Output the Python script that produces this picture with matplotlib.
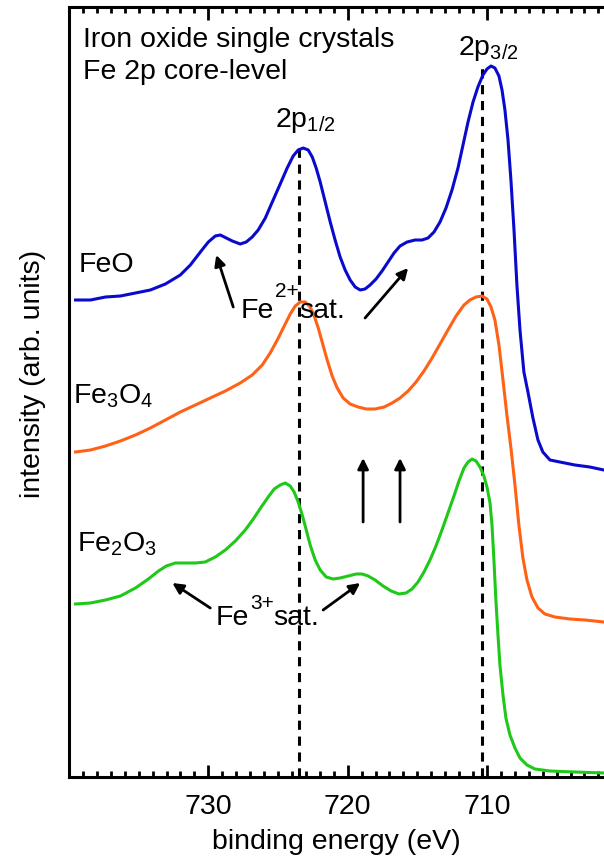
import matplotlib
matplotlib.use("Agg")
import matplotlib.pyplot as plt
from matplotlib.ticker import MultipleLocator

plt.rcParams['font.family'] = ['Liberation Sans', 'DejaVu Sans']
plt.rcParams['mathtext.fontset'] = 'custom'
plt.rcParams['mathtext.rm'] = 'Liberation Sans'
plt.rcParams['mathtext.it'] = 'Liberation Sans'
plt.rcParams['mathtext.default'] = 'regular'

# ---- data (binding energy in eV, intensity in arb. units incl. vertical offset) ----
feo_energy = [739.53, 738.46, 737.38, 736.31, 735.23, 734.16, 733.08, 732.01, 731.29, 730.57,
              730.00, 729.50, 729.14, 728.71, 728.28, 727.71, 727.28, 726.85, 726.42, 725.91,
              725.41, 724.84, 724.34, 723.91, 723.55, 723.19, 722.83, 722.54, 722.26, 721.97,
              721.61, 721.25, 720.90, 720.54, 720.18, 719.82, 719.46, 719.10, 718.75, 718.39,
              717.96, 717.53, 717.10, 716.67, 716.24, 715.73, 715.16, 714.66, 714.23, 713.80,
              713.37, 712.94, 712.51, 712.08, 711.72, 711.36, 711.00, 710.65, 710.29, 710.00,
              709.71, 709.43, 709.14, 708.92, 708.71, 708.49, 708.28, 708.06, 707.85, 707.63,
              707.35, 707.06, 706.70, 706.34, 705.99, 705.48, 704.77, 703.69, 702.62, 701.61]
feo_int = [477, 477, 480, 481, 484, 487, 493, 502, 512, 525,
           535, 541, 542, 539, 536, 533, 535, 540, 547, 559,
           575, 593, 609, 621, 627, 629, 627, 620, 609, 595,
           575, 555, 537, 520, 507, 497, 490, 487, 488, 492,
           498, 506, 515, 524, 531, 535, 537, 537, 539, 545,
           555, 569, 587, 609, 632, 655, 675, 690, 702, 708,
           711, 709, 701, 687, 667, 637, 597, 547, 492, 447,
           405, 385, 359, 337, 325, 317, 315, 312, 310, 307]

fe3o4_energy = [739.53, 738.46, 737.38, 736.31, 735.23, 734.16, 733.08, 732.01, 730.93, 729.86,
                728.78, 727.71, 726.85, 726.13, 725.56, 725.05, 724.55, 724.12, 723.76, 723.40,
                723.05, 722.69, 722.40, 722.11, 721.83, 721.47, 721.11, 720.75, 720.32, 719.82,
                719.25, 718.67, 718.03, 717.38, 716.81, 716.24, 715.66, 715.09, 714.52, 713.94,
                713.37, 712.80, 712.22, 711.65, 711.22, 710.79, 710.36, 710.00, 709.71, 709.43,
                709.14, 708.85, 708.57, 708.28, 707.99, 707.71, 707.42, 707.13, 706.77, 706.34,
                705.84, 705.13, 704.05, 702.97, 701.61]
fe3o4_int = [325, 327, 331, 336, 342, 349, 357, 365, 372, 379,
             386, 394, 402, 412, 424, 437, 451, 463, 471, 475,
             475, 470, 461, 449, 435, 417, 401, 389, 379, 373,
             370, 368, 368, 370, 374, 379, 386, 395, 406, 419,
             433, 447, 461, 472, 477, 480, 481, 478, 470, 457,
             432, 397, 362, 329, 292, 252, 219, 197, 180, 169,
             163, 160, 158, 157, 155]

fe2o3_energy = [739.53, 738.46, 737.38, 736.31, 735.23, 734.30, 733.58, 733.01, 732.37, 731.65,
                730.93, 730.22, 729.50, 728.78, 728.06, 727.35, 726.77, 726.20, 725.70, 725.27,
                724.84, 724.48, 724.12, 723.84, 723.55, 723.26, 722.97, 722.69, 722.33, 721.97,
                721.54, 721.04, 720.54, 719.96, 719.39, 718.96, 718.53, 718.03, 717.46, 716.88,
                716.31, 715.81, 715.38, 714.95, 714.52, 714.09, 713.66, 713.23, 712.80, 712.37,
                712.01, 711.65, 711.36, 711.07, 710.79, 710.50, 710.22, 710.00, 709.78, 709.64,
                709.50, 709.36, 709.21, 709.07, 708.85, 708.64, 708.35, 707.99, 707.63, 707.13,
                706.56, 705.48, 703.69, 701.61]
fe2o3_int = [173, 174, 177, 181, 189, 198, 206, 211, 214, 214,
             214, 215, 220, 227, 236, 247, 258, 270, 280, 288,
             292, 294, 291, 285, 275, 262, 247, 232, 217, 207,
             200, 198, 199, 201, 203, 203, 201, 197, 191, 186,
             183, 184, 188, 195, 205, 217, 231, 247, 264, 281,
             296, 309, 315, 318, 316, 310, 301, 290, 274, 252,
             217, 177, 142, 112, 82, 59, 42, 29, 19, 12,
             8, 6, 5, 4]

series_names = ["FeO", "Fe$_3$O$_4$", "Fe$_2$O$_3$"]
series_colors = ["#0a0acc", "#ff6216", "#20c81a"]

peak_positions = [723.5, 710.35]          # 2p1/2, 2p3/2
peak_labels = ["2p$_{1/2}$", "2p$_{3/2}$"]
peak_line_tops = [630, 709]

x_ticks = [730, 720, 710]

# ---- figure ----
fig = plt.figure(figsize=(6.04, 8.64), dpi=100)
ax = fig.add_axes([69/604, 87/864, 1 - 69/604, 770/864])

lw = 2.2
for E, I, c in zip([feo_energy, fe3o4_energy, fe2o3_energy],
                   [feo_int, fe3o4_int, fe2o3_int], series_colors):
    ax.plot(E, I, color=c, lw=lw, solid_joinstyle='round', zorder=3)

for pos, top in zip(peak_positions, peak_line_tops):
    ax.plot([pos, pos], [0, top], color='k', lw=2.2, dashes=(3, 2.2), zorder=2)

ax.set_xlim(740, 701.6)
ax.set_ylim(0, 770)

fs = 20.5
fs_sup = 15
ax.text(739.03, 730, "Iron oxide single crystals", fontsize=fs, ha='left', va='baseline')
ax.text(739.03, 698, "Fe 2p core-level", fontsize=fs, ha='left', va='baseline')
ax.text(725.2, 650, peak_labels[0], fontsize=fs, ha='left', va='baseline')
ax.text(712.08, 722, peak_labels[1], fontsize=fs, ha='left', va='baseline')

ax.text(739.32, 505, series_names[0], fontsize=fs, ha='left', va='baseline')
ax.text(739.68, 374, series_names[1], fontsize=fs, ha='left', va='baseline')
ax.text(739.46, 225, series_names[2], fontsize=fs, ha='left', va='baseline')

# satellite labels: "Fe", raised charge, "sat."
ax.text(727.71, 459, "Fe", fontsize=fs, ha='left', va='baseline')
ax.text(725.20, 480, "2+", fontsize=fs_sup, ha='left', va='baseline')
ax.text(723.48, 459, "sat.", fontsize=fs, ha='left', va='baseline')

ax.text(729.50, 152, "Fe", fontsize=fs, ha='left', va='baseline')
ax.text(726.99, 168, "3+", fontsize=fs_sup, ha='left', va='baseline')
ax.text(725.34, 152, "sat.", fontsize=fs, ha='left', va='baseline')

arrow_kw = dict(arrowstyle='-|>', lw=2.0, color='k', mutation_scale=16, shrinkA=0, shrinkB=0)
arrows = [((728.21, 470), (729.43, 522)),
          ((718.75, 459), (715.66, 509)),
          ((729.86, 169), (732.58, 194)),
          ((721.76, 167), (719.10, 194)),
          ((718.89, 255), (718.89, 319)),
          ((716.24, 255), (716.24, 319))]
for tail, head in arrows:
    ax.annotate("", xy=head, xytext=tail, arrowprops=arrow_kw)

ax.set_xticks(x_ticks)
ax.xaxis.set_minor_locator(MultipleLocator(1))
ax.set_yticks([])
ax.tick_params(axis='x', which='major', direction='in', length=9, width=2, top=True,
               labelsize=fs, pad=12)
ax.tick_params(axis='x', which='minor', direction='in', length=4.5, width=2, top=True)
for s in ['left', 'bottom', 'top']:
    ax.spines[s].set_linewidth(2.2)
ax.spines['right'].set_visible(False)

ax.set_xlabel("binding energy (eV)", fontsize=fs, labelpad=7)
ax.set_ylabel("intensity (arb. units)", fontsize=fs)
ax.yaxis.set_label_coords(-0.043, 0.523)

fig.savefig("out.png", dpi=100)
